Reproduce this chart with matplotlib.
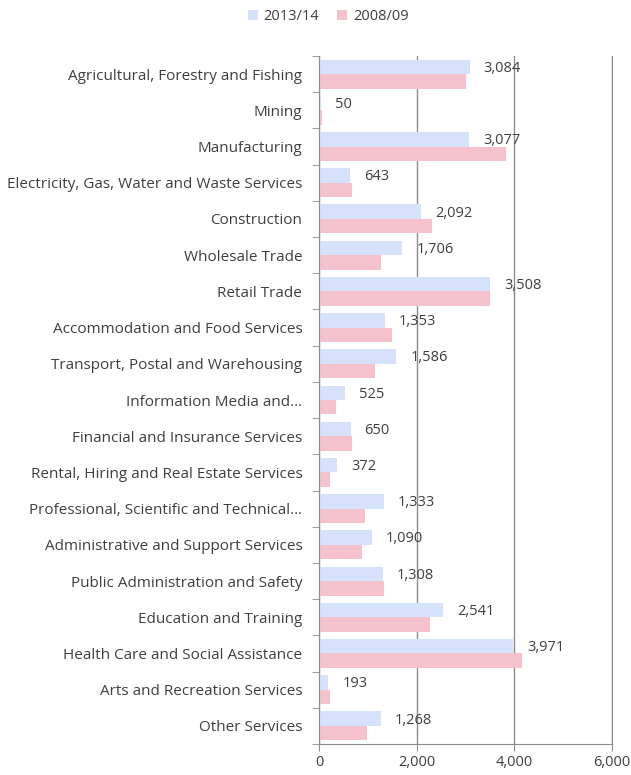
import numpy as np
import matplotlib.pyplot as plt
import matplotlib.ticker as ticker

plt.rcParams["font.family"] = ["Open Sans", "DejaVu Sans"]

# --- data ---
categories = [
    "Agricultural, Forestry and Fishing",
    "Mining",
    "Manufacturing",
    "Electricity, Gas, Water and Waste Services",
    "Construction",
    "Wholesale Trade",
    "Retail Trade",
    "Accommodation and Food Services",
    "Transport, Postal and Warehousing",
    "Information Media and\u2026",
    "Financial and Insurance Services",
    "Rental, Hiring and Real Estate Services",
    "Professional, Scientific and Technical\u2026",
    "Administrative and Support Services",
    "Public Administration and Safety",
    "Education and Training",
    "Health Care and Social Assistance",
    "Arts and Recreation Services",
    "Other Services",
]
values_1314 = [3084, 50, 3077, 643, 2092, 1706, 3508, 1353, 1586, 525,
               650, 372, 1333, 1090, 1308, 2541, 3971, 193, 1268]
values_0809 = [3015, 55, 3830, 685, 2310, 1270, 3510, 1490, 1140, 340,
               685, 225, 945, 890, 1330, 2270, 4150, 230, 975]
series_names = ["2013/14", "2008/09"]
x_ticks = [0, 2000, 4000, 6000]

blue = "#d6e2fc"
pink = "#f5c1cd"
grid_col = "#8c8c8c"
text_col = "#3f3f3f"

fig = plt.figure(figsize=(6.31, 7.75), dpi=100)
ax = fig.add_axes([0.5055, 0.04, 0.4645, 0.8877])

y = np.arange(len(categories))
h = 0.4
b1 = ax.barh(y - h / 2, values_1314, height=h, color=blue, label=series_names[0], zorder=2)
b2 = ax.barh(y + h / 2, values_0809, height=h, color=pink, label=series_names[1], zorder=2)

# value labels for 2013/14 only
for yi, v in zip(y, values_1314):
    ax.annotate(f"{v:,}", xy=(v, yi - h / 2), xytext=(10, -1), textcoords="offset points",
                va="center", ha="left", fontsize=10.5, color=text_col, zorder=3)

ax.set_ylim(len(categories) - 0.5, -0.5)
ax.set_xlim(0, 6000)
ax.xaxis.set_major_locator(ticker.FixedLocator(x_ticks))
ax.xaxis.set_major_formatter(ticker.FuncFormatter(lambda v, p: f"{int(v):,}"))

# category labels centred, ticks at the boundaries
ax.set_yticks(y)
ax.set_yticklabels(categories, fontsize=11, color=text_col)
ax.yaxis.set_minor_locator(ticker.FixedLocator(np.arange(-0.5, len(categories), 1)))
ax.tick_params(axis="y", which="major", length=0, pad=12)
ax.tick_params(axis="y", which="minor", length=5, color=grid_col, direction="out")
ax.tick_params(axis="x", length=5, color=grid_col, labelsize=10.5, labelcolor=text_col, pad=3)

ax.grid(axis="x", color=grid_col, linewidth=1, zorder=0)
ax.set_axisbelow(True)
ax.spines["top"].set_visible(False)
for s in ["left", "bottom", "right"]:
    ax.spines[s].set_color(grid_col)

fig.legend(handles=[b1, b2], loc="upper center", bbox_to_anchor=(0.52, 1.005), ncol=2,
           frameon=False, fontsize=10.5, handlelength=0.7, handleheight=0.7,
           handletextpad=0.4, columnspacing=1.2, labelcolor=text_col)

plt.savefig("out.png")
